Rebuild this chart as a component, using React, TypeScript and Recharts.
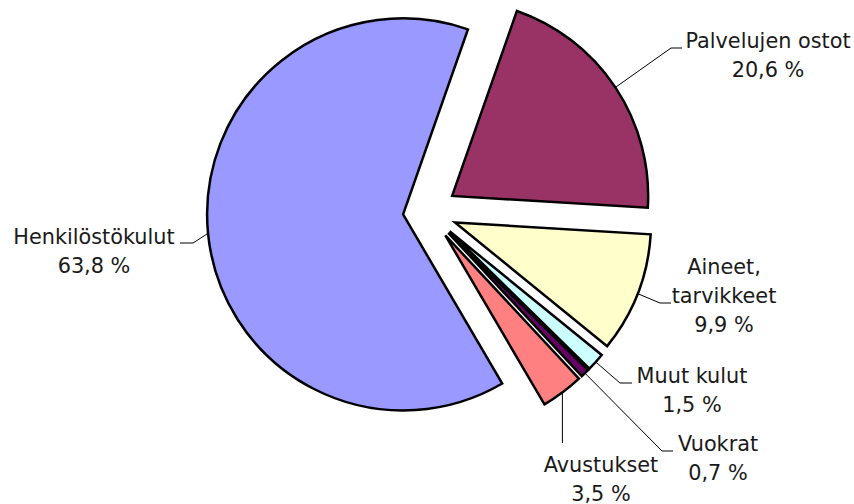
import { PieChart, Pie, Cell, Sector, Tooltip } from 'recharts';

const categories = ['Palvelujen ostot', 'Aineet, tarvikkeet', 'Muut kulut', 'Vuokrat', 'Avustukset', 'Henkilöstökulut'];
const values = [20.6, 9.9, 1.5, 0.7, 3.5, 63.8];
const colors = ['#993366', '#FFFFCC', '#CCFFFF', '#660066', '#FF8080', '#9999FF'];
const explode = [29, 29, 29, 29, 29, 25];

// label layout: text centre x, first baseline y, leader elbow x / end x, leader y
const labelLayout = [
  { x: 768, y: 48, ex: 671, lx: 682, ly: 48 },
  { x: 724, y: 274, ex: 660, lx: 671, ly: 303 },
  { x: 692, y: 383, ex: 620, lx: 632, ly: 383 },
  { x: 718, y: 451, ex: 662, lx: 673, ly: 451 },
  { x: 601, y: 472, ex: null, lx: null, ly: 443 },
  { x: 94, y: 244, ex: 193, lx: 180, ly: 243 },
];

const data = categories.map((name, i) => ({ name, value: values[i] }));

const RAD = Math.PI / 180;
const fmt = (v: number) => v.toFixed(1).replace('.', ',') + ' %';

const idxOf = (p: any) => categories.indexOf(p.name ?? p.payload?.name);

const renderSector = (props: any) => {
  const i = idxOf(props);
  const d = explode[i] ?? 0;
  const a = -props.midAngle * RAD;
  return <Sector {...props} cx={props.cx + d * Math.cos(a)} cy={props.cy + d * Math.sin(a)} />;
};

const renderLabel = (props: any) => {
  const i = idxOf(props);
  const { cx, cy, midAngle, outerRadius } = props;
  const d = explode[i] ?? 0;
  const a = -midAngle * RAD;
  const sx = cx + (d + outerRadius) * Math.cos(a);
  const sy = cy + (d + outerRadius) * Math.sin(a);
  const L = labelLayout[i];
  const lines = categories[i].split(/(?<=,) /).concat(fmt(values[i]));
  const pts = L.ex == null ? `${sx},${sy} ${sx},${L.ly}` : `${sx},${sy} ${L.ex},${L.ly} ${L.lx},${L.ly}`;
  return (
    <g key={'lbl' + i}>
      <polyline points={pts} fill="none" stroke="#000" strokeWidth={1} />
      <text x={L.x} y={L.y} textAnchor="middle" fill="#1a1a1a" fontSize={20.8} fontFamily="DejaVu Sans">
        {lines.map((t, k) => (
          <tspan key={k} x={L.x} dy={k === 0 ? 0 : 29}>{t}</tspan>
        ))}
      </text>
    </g>
  );
};

export default function App() {
  return (
    <div style={{ position: 'absolute', left: 0, top: 0, width: 854, height: 504, background: '#fff' }}>
      <PieChart width={854} height={504} margin={{ top: 0, right: 0, bottom: 0, left: 0 }}>
        <Tooltip defaultIndex={0} content={() => null} cursor={false} />
        <Pie
          data={data}
          dataKey="value"
          nameKey="name"
          cx={428}
          cy={212}
          outerRadius={196}
          startAngle={70.7}
          endAngle={-289.3}
          stroke="#000"
          strokeWidth={2.5}
          isAnimationActive={false}
          shape={renderSector}
          activeShape={renderSector}
          inactiveShape={renderSector}
          label={renderLabel}
          labelLine={false}
        >
          {data.map((e, i) => (
            <Cell key={e.name} fill={colors[i]} />
          ))}
        </Pie>
      </PieChart>
    </div>
  );
}
